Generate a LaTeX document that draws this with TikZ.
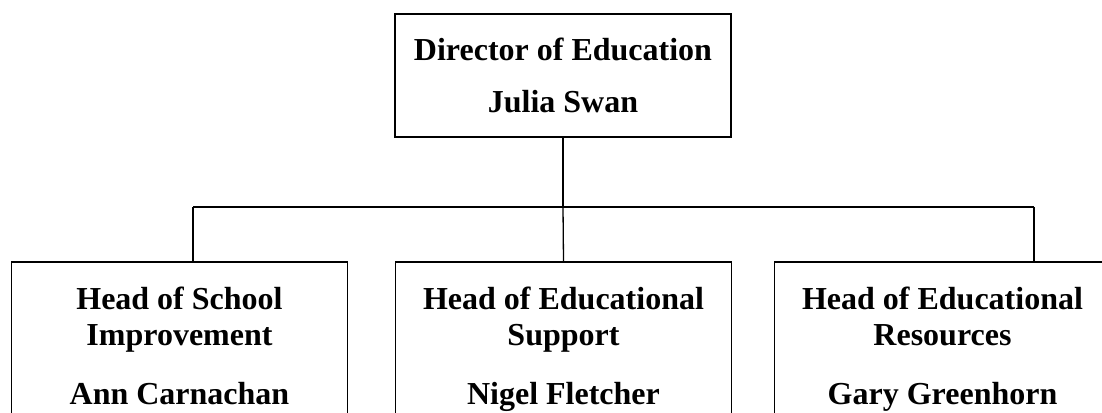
\documentclass[tikz,border=0pt]{standalone}
\usepackage{fontspec}
\setmainfont{Liberation Serif}
\usetikzlibrary{positioning}

\begin{document}
\begin{tikzpicture}[x=1pt, y=1pt,
    post/.style={rectangle, draw, line width=1.8pt, minimum width=336pt,
      inner sep=0pt, align=center, font=\fontsize{32}{36}\selectfont\bfseries},
    head/.style={post, minimum height=174pt, anchor=north},
    link/.style={line width=1.3pt}]
  \useasboundingbox (0,0) rectangle (1102,412);
  \clip (0,0) rectangle (1102,412);

  % director on top, the three heads below
  \node[post, minimum height=123pt] (dir) at (563,336.5) {Director of Education\\[16pt]Julia Swan};
  \node[head] (school) at (179.5,151) {Head of School\\Improvement\\[23pt]Ann Carnachan\vphantom{g}};
  \node[head, right=46.2pt of school] (support) {Head of Educational\\Support\\[23pt]Nigel Fletcher\vphantom{g}};
  \node[head, right=41.2pt of support] (resources) {Head of Educational\\Resources\\[23pt]Gary Greenhorn\vphantom{g}};

  % the bar under the director
  \coordinate (bus) at (563,205);
  \coordinate (busL) at (193,205);
  \coordinate (busR) at (1034,205);
  \draw[link] (dir.south) -- (bus);
  \draw[link] (busL) -- (busR);
  \draw[link] (busL) -- (busL |- school.north);
  \draw[link] (bus) -- (support.north);
  \draw[link] (busR) -- (busR |- resources.north);
\end{tikzpicture}
\end{document}
